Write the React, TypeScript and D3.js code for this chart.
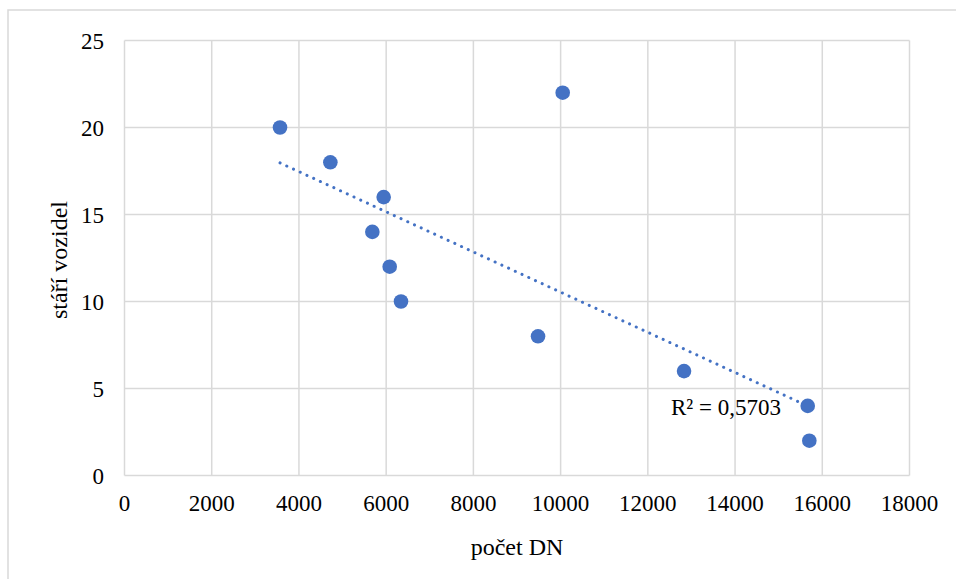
import React from "react";
import * as d3 from "d3";

// Vehicle fleet: number of vehicles (počet DN) vs. vehicle age (stáří vozidel)
const pocetDN = [3566, 4720, 5943, 5683, 6081, 6340, 10048, 9482, 12830, 15666, 15703];
const stariVozidel = [20, 18, 16, 14, 12, 10, 22, 8, 6, 4, 2];
const xTicks = [0, 2000, 4000, 6000, 8000, 10000, 12000, 14000, 16000, 18000];
const yTicks = [0, 5, 10, 15, 20, 25];
const r2Label = "R² = 0,5703";

const W = 956;
const H = 579;
const FONT = "'Liberation Serif', 'Times New Roman', serif";
const BLUE = "#4472C4";
const GRID = "#d9d9d9";

export default function App() {
  const x = d3.scaleLinear().domain([0, 18000]).range([124.5, 909.5]);
  const y = d3.scaleLinear().domain([0, 25]).range([475.5, 40.5]);

  // least-squares linear trend
  const mx = d3.mean(pocetDN)!;
  const my = d3.mean(stariVozidel)!;
  let sxy = 0;
  let sxx = 0;
  pocetDN.forEach((v, i) => {
    sxy += (v - mx) * (stariVozidel[i] - my);
    sxx += (v - mx) * (v - mx);
  });
  const slope = sxy / sxx;
  const intercept = my - slope * mx;
  const [xMin, xMax] = d3.extent(pocetDN) as [number, number];
  const trend = d3
    .line<number>()
    .x((d) => x(d))
    .y((d) => y(intercept + slope * d))([xMin, xMax]);

  return (
    <svg
      width={W}
      height={H}
      style={{ position: "absolute", left: 0, top: 0, background: "#fff" }}
      fontFamily={FONT}
    >
      <rect x={8} y={10} width={W} height={H} fill="#fff" stroke={GRID} strokeWidth={1.5} />

      {xTicks.map((t) => (
        <line key={"gx" + t} x1={x(t)} x2={x(t)} y1={y(0)} y2={y(25)} stroke={GRID} strokeWidth={1.5} />
      ))}
      {yTicks.map((t) => (
        <line key={"gy" + t} x1={x(0)} x2={x(18000)} y1={y(t)} y2={y(t)} stroke={GRID} strokeWidth={1.5} />
      ))}

      {xTicks.map((t) => (
        <text key={"tx" + t} x={x(t)} y={511} textAnchor="middle" fontSize={23} fill="#000">
          {t}
        </text>
      ))}
      {yTicks.map((t) => (
        <text key={"ty" + t} x={104} y={y(t)} dy="0.35em" textAnchor="end" fontSize={23} fill="#000">
          {t}
        </text>
      ))}

      <text x={517} y={555} textAnchor="middle" fontSize={24} fill="#000">
        počet DN
      </text>
      <text
        transform={`translate(67,${y(12.5) + 2}) rotate(-90)`}
        textAnchor="middle"
        fontSize={24}
        fill="#000"
      >
        stáří vozidel
      </text>

      <path
        d={trend ?? ""}
        fill="none"
        stroke={BLUE}
        strokeWidth={3}
        strokeLinecap="round"
        strokeDasharray="0.1 7.3"
      />

      {pocetDN.map((v, i) => (
        <circle key={"p" + i} cx={x(v)} cy={y(stariVozidel[i])} r={7.3} fill={BLUE} />
      ))}

      <text x={671} y={415} fontSize={23} fill="#000">
        {r2Label}
      </text>
    </svg>
  );
}
